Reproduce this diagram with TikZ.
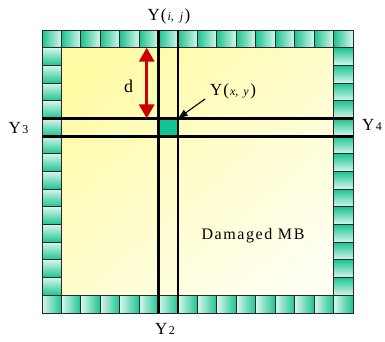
\documentclass[tikz,border=0pt]{standalone}
\usepackage{fontspec}
\setmainfont{Liberation Serif}
\newfontfamily\spacedfont[LetterSpace=10]{Liberation Serif}
\usetikzlibrary{arrows.meta}
\definecolor{ylw}{RGB}{255,251,165}
\definecolor{ylwpale}{RGB}{255,255,242}
\definecolor{gdark}{RGB}{28,196,146}
\definecolor{gpale}{RGB}{214,246,236}
\definecolor{gsq}{RGB}{16,196,146}
\definecolor{bline}{RGB}{40,40,40}
\definecolor{dred}{RGB}{204,0,0}
\tikzset{
  blk/.style={draw=bline, line width=0.9pt},
  grid line/.style={line width=2.8pt, black},
  lbl/.style={inner sep=0pt, font=\fontsize{17}{17}\selectfont},
}
\newcommand\smallsz{\fontsize{12}{12}\selectfont}
\newcommand\bigsz{\fontsize{17}{17}\selectfont}
\begin{document}
\begin{tikzpicture}[x=1pt,y=-1pt]
\useasboundingbox (0,0) rectangle (385,341);
\def\bw{19.4375}
\def\bh{17.6875}
% interior
\shade[top color=ylw, bottom color=ylwpale, shading angle=40] (42,30) rectangle (353,313);
% border blocks
\foreach \i in {0,...,15}{
  \shadedraw[blk, left color=gdark, right color=gpale] ({42+\i*\bw},30) rectangle ++(\bw,\bh);
  \shadedraw[blk, left color=gpale, right color=gdark] ({42+\i*\bw},{313-\bh}) rectangle ++(\bw,\bh);
}
\foreach \j in {1,...,14}{
  \shadedraw[blk, top color=gpale, bottom color=gdark] (42,{30+\j*\bh}) rectangle ++(\bw,\bh);
  \shadedraw[blk, top color=gdark, bottom color=gpale] ({353-\bw},{30+\j*\bh}) rectangle ++(\bw,\bh);
}
% key coordinates
\coordinate (vl) at ({42+6*\bw},30);
\coordinate (vr) at ({42+7*\bw},30);
\coordinate (vlb) at ({42+6*\bw},313);
\coordinate (vrb) at ({42+7*\bw},313);
\coordinate (ht) at (42,{30+5*\bh});
\coordinate (hb) at (42,{30+6*\bh});
\coordinate (htr) at (353,{30+5*\bh});
\coordinate (hbr) at (353,{30+6*\bh});
% green square
\fill[gsq] ({42+6*\bw},{30+5*\bh}) rectangle ({42+7*\bw},{30+6*\bh});
% grid lines
\draw[grid line] (vl) -- (vlb);
\draw[grid line] (vr) -- (vrb);
\draw[grid line] (ht) -- (htr);
\draw[grid line] (hb) -- (hbr);
% d arrow
\coordinate (dtop) at (146.7,{30+\bh});
\coordinate (dbot) at (146.7,{30+5*\bh});
\draw[dred, line width=3pt, {Triangle[width=15pt,length=14pt]}-{Triangle[width=15pt,length=14pt]}] (dtop) -- (dbot);
\node[inner sep=0pt, anchor=base, font=\fontsize{18}{18}\selectfont] (d) at (128.5,92.5) {d};
% labels
\node[lbl, anchor=base] (yij) at (169,20.5) {Y\kern1pt(\kern1pt\smallsz\textit{i,\enspace j}\kern1.5pt\bigsz)};
\node[lbl, anchor=base west] (y3) at (8.5,133) {Y\kern1.5pt\smallsz 3};
\node[lbl, anchor=base west] (y4) at (362,130) {Y\kern1.5pt\smallsz 4};
\node[lbl, anchor=base west] (y2) at (155,334) {Y\kern1.5pt\smallsz 2};
\node[lbl, anchor=base west] (yxy) at (210,95) {Y\kern1pt(\kern1pt\smallsz\textit{x,\, y}\kern1.5pt\bigsz)};
\coordinate (ast) at (205,99);
\coordinate (sqc) at ({42+7*\bw+0.5},{30+5*\bh-0.5});
\draw[line width=1.1pt, -{Triangle[width=7pt,length=9pt]}] (ast) -- (sqc);
\node[inner sep=0pt, anchor=base, font=\spacedfont\fontsize{16}{16}\selectfont] (dmb) at (253,239) {Damaged MB};
\end{tikzpicture}
\end{document}
